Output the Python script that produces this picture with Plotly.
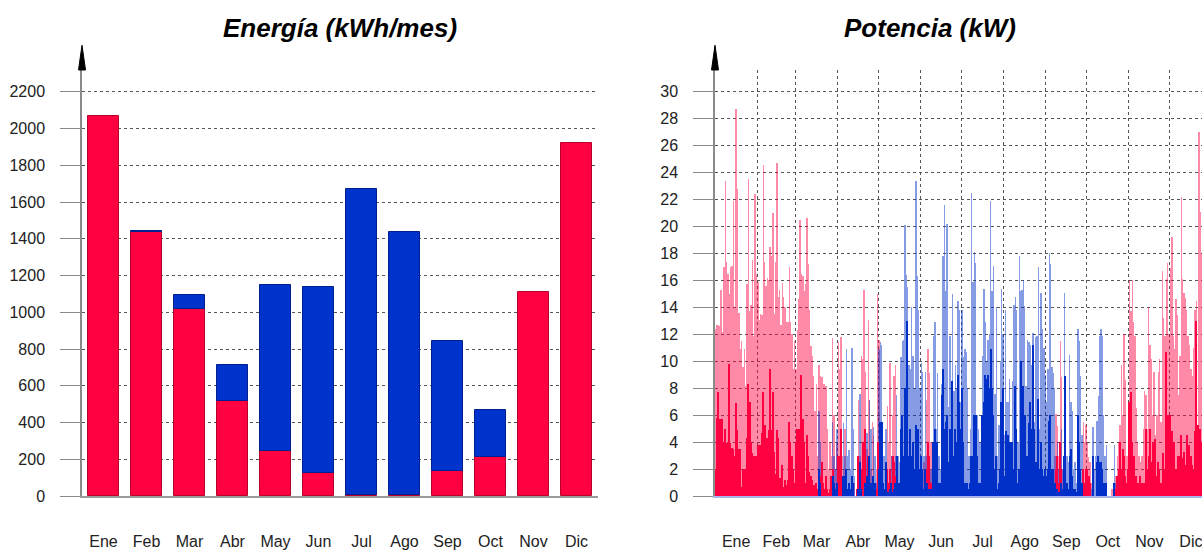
import numpy as np
import plotly.graph_objects as go

# ---------------- datos ----------------
meses = ["Ene", "Feb", "Mar", "Abr", "May", "Jun", "Jul", "Ago", "Sep", "Oct", "Nov", "Dic"]
dias_mes = [31, 28, 31, 30, 31, 30, 31, 31, 30, 31, 30, 31]

# Energía mensual (kWh/mes)
calefaccion = [2070, 1435, 1020, 515, 245, 125, 5, 5, 135, 215, 1110, 1920]
refrigeracion = [0, 10, 75, 200, 905, 1010, 1665, 1430, 710, 255, 0, 0]

# Potencia diaria (kW): pico y nivel base, calefacción
calor_pico = (
    [12.4, 12.7, 12.7, 12.6, 15.3, 12.2, 17.0, 23.4, 17.4, 16.5, 15.0, 17.0, 17.1, 21.9, 14.0, 28.7,
     22.8, 13.6, 10.9, 11.5, 9.6, 10.9, 8.2, 15.7, 23.5, 13.7, 14.2, 17.5, 11.9, 22.4, 16.5]  # Ene
    + [15.9, 13.1, 13.5, 13.4, 24.6, 17.4, 15.6, 16.2, 16.0, 18.5, 17.8, 21.0, 13.5, 17.4, 24.7, 14.8,
       15.3, 12.7, 15.8, 14.8, 14.0, 12.9, 12.9, 17.0, 12.9, 12.0, 9.4, 11.5]  # Feb
    + [9.4, 12.3, 14.6, 20.5, 16.5, 16.3, 15.2, 15.7, 20.6, 17.2, 13.8, 11.1, 10.4, 8.9, 6.3, 8.3,
       3.0, 9.7, 8.9, 8.8, 8.3, 8.3, 8.2, 5.0, 2.0, 4.0, 3.0, 11.7, 6.0, 2.0, 4.0]  # Mar
    + [11.4, 9.4, 11.8, 3, 2, 5, 0.5, 0, 0, 0.5, 0, 0, 1, 0, 2.5, 7.1, 3, 10.4, 10.2, 15.3,
       9.2, 3.5, 13.1, 7.1, 2, 5.5, 4.5, 1, 2, 15.0]  # Abr
    + [11.6, 0, 0, 0, 0, 0, 6.7, 4, 9.9, 3, 6, 8.9, 9.7, 2, 1] + [0] * 16  # May
    + [0, 0, 2.5, 3, 7.1, 10.9, 9.1, 4, 1, 0.5] + [0] * 20  # Jun
    + [0, 1.6] + [0] * 29  # Jul
    + [0, 0, 0, 0, 0, 0, 0, 0, 2] + [0] * 22  # Ago
    + [0, 0, 0, 0, 0, 0, 3, 6.1, 5.2, 3, 11.5, 8.8, 2, 1, 2, 0.5, 0, 0, 0, 0,
       0, 0, 0, 0, 0, 0, 0, 5.5, 4, 5.3]  # Sep
    + [3.9, 2.9, 2.5, 1, 0.5, 0, 0, 0, 0, 0, 0, 0, 0, 0, 0, 0, 0, 0, 0.5, 0.5,
       0.5, 1.5, 3, 4.0, 5.3, 9.7, 6, 12.0, 8.6, 3, 3.2]  # Oct
    + [16.0, 13.7, 16.0, 12.9, 11.9, 6.5, 4, 3, 2.5, 3, 5, 7.8, 7.5, 5, 14.0, 11.2, 10.2, 6, 9.2, 4.5,
       6, 9.2, 10.2, 5.5, 16.7, 13.2, 11.9, 16.1, 17.3, 12]  # Nov
    + [16.9, 19.2, 11.9, 10.9, 14.6, 13.4, 7.5, 10.4, 22.2, 16.1, 15.1, 14.7, 13.8, 11.9, 11.2, 9.4,
       8.9, 11.0, 13.8, 14.5, 5, 27.0, 21.1, 18, 16, 15, 14, 17, 16, 13, 15]  # Dic
)

calor_base = (
    [2, 5.8, 7.7, 5.7, 5.7, 5.7, 4, 5, 3.9, 3.9, 9.8, 3.9, 3.6, 3.5, 3, 6.9, 4.9, 3.5, 3.5, 0.7,
     2, 2, 2, 4.3, 8.3, 7, 4, 3.2, 3, 2.8, 3]  # Ene
    + [3.8, 3.8, 3.8, 4.7, 7.7, 5.3, 2.3, 4.3, 4.9, 9.4, 4.9, 7.7, 3.3, 1.6, 4.9, 4.3, 1.3, 1.3, 2.3,
       0.7, 1.2, 0.8, 1.2, 5.5, 4, 3, 2, 1]  # Feb
    + [4, 5, 5, 2.5, 9, 5.7, 4, 1, 4.5, 3, 1.8, 1.5, 1.2, 0.8, 0.5, 1, 0.5, 1, 1.5, 2.5, 1, 0.5,
       1.5, 0.5, 0.2, 0.5, 1.5, 2, 1, 0.5, 1]  # Mar
    + [3, 3, 5, 0.5, 0.5, 1.5, 0, 0, 0, 0, 0, 0, 0, 0, 0.5, 3, 1, 2, 4, 4, 5, 1, 3, 2, 0.5, 1,
       0.5, 0, 0.5, 4]  # Abr
    + [3, 0, 0, 0, 0, 0, 2, 1, 2, 0.5, 3, 2.5, 1.5, 0.5, 0] + [0] * 16  # May
    + [0, 0, 0.5, 1, 2, 4, 3, 1, 0, 0] + [0] * 20  # Jun
    + [0] * 31  # Jul
    + [0] * 31  # Ago
    + [0, 0, 0, 0, 0, 0, 0.5, 2, 3, 1, 4, 2, 0.5, 0, 0.5, 0, 0, 0, 0, 0, 0, 0, 0, 0, 0, 0, 0,
       2, 1, 2]  # Sep
    + [2, 1.5, 1, 0, 0] + [0] * 16 + [0.5, 1.5, 2, 4, 2, 3.5, 3, 1.5, 1, 2]  # Oct
    + [7, 7.7, 4, 3, 1.5, 1.5, 1, 1, 1.5, 1, 0.5, 1, 5, 2, 3, 5, 2.5, 4, 2, 4.2, 1.5, 2.5, 2, 1,
       1, 3.2, 2, 10.7, 6, 4]  # Nov
    + [6, 4.8, 1, 4, 2, 0.5, 3, 3, 4.5, 2.8, 3.3, 2.3, 4.5, 2.8, 3.8, 3, 2.3, 2, 4.8, 13, 5.3, 5,
       5, 4, 4, 4, 4, 4, 4, 4, 4]  # Dic
)

# Potencia diaria (kW): pico y nivel base, refrigeración
frio_pico = (
    [0] * 31  # Ene
    + [0] * 28  # Feb
    + [0] * 17 + [6.3, 4] + [0] * 8 + [5.5, 3, 2, 5]  # Mar
    + [0, 0, 0, 0, 5.4, 3, 10.9, 3, 3.4, 2, 11.0, 5.0, 1.5, 0, 0, 1, 7.6, 2, 0, 0, 4, 4.7, 2, 7.1,
       5, 0, 5.1, 3, 1, 0]  # Abr
    + [10.9, 11.4, 11.2, 3, 3, 5.0, 1, 1, 2, 3, 1, 2, 3, 7.5, 3, 2.5, 10.3, 11.5, 11.6, 20.1, 16.4,
       15.5, 9.7, 9.4, 14.0, 10.4, 8, 23.4, 16.3, 13.8, 8]  # May
    + [9.9, 9.2, 3, 9.2, 3, 2, 2, 2, 3, 11.9, 12.9, 5, 9.1, 3, 2, 8.3, 17.8, 21.6, 15.2, 20.2, 6.6,
       11.9, 8, 15.0, 7.8, 9.7, 8, 14.5, 13.8, 7]  # Jun
    + [13.8, 10.3, 10.9, 10.7, 8, 3, 5, 22.5, 15.9, 18.1, 17.3, 6, 5, 4, 3, 10.4, 15.4, 12.9, 10.0,
       11.6, 12, 21.9, 15.2, 17.1, 7.6, 14.0, 3, 5.3, 10, 15.4, 12]  # Jul
    + [4.5, 13.8, 7, 7, 8.7, 3, 8.5, 14.2, 14.8, 13.8, 4, 17.8, 15.2, 15.3, 16.0, 14.1, 8.2, 11.6,
       11.4, 11.2, 9.7, 12.1, 5.5, 11.8, 11.9, 17.0, 5, 15.1, 12.4, 11, 9]  # Ago
    + [7, 9.4, 18.0, 17.2, 9.6, 9.1, 8, 3, 4, 2, 3, 5, 2, 15.1, 8.9, 3, 2.5, 10.5, 7, 6.3, 2, 2.5,
       1, 12.4, 11.5, 8.9, 4.5, 1, 0.5, 0.5]  # Sep
    + [1, 0.5, 0, 0.5, 5.1, 2, 3, 5.6, 7.4, 11.9, 12.4, 11.9, 6, 3, 3.8, 0, 0, 0, 0, 0, 3.8, 1,
       0.5] + [0] * 8  # Oct
    + [0] * 30  # Nov
    + [0] * 31  # Dic
)

frio_base = (
    [0] * 31  # Ene
    + [0] * 28  # Feb
    + [0] * 17 + [2, 1] + [0] * 8 + [1.5, 1, 0.5, 1]  # Mar
    + [0, 0, 0, 0, 1.5, 1.5, 2, 0.5, 1, 0.5, 1.5, 1, 0, 0, 0, 0.5, 2.5, 0.5, 0, 0, 1, 1.5, 0.5, 3,
       1, 0, 1.5, 1, 0, 0]  # Abr
    + [2, 5.5, 5.5, 1, 0.5, 2.5, 0.3, 0.3, 0.5, 1, 0.3, 0.5, 1, 3, 1, 1, 5, 6, 3, 8, 4, 13, 3, 5,
       3, 4, 2, 5.3, 5, 5, 2]  # May
    + [3, 2, 0.5, 2, 1, 0.5, 0.5, 0.5, 0.5, 4, 5, 2, 4, 1, 1, 7.5, 9.4, 5, 5.5, 6, 2.5, 5, 2, 8.5,
       3, 5, 4, 9, 7, 5]  # Jun
    + [8, 4, 1, 1, 1, 0.5, 1, 3, 3, 6, 6, 3, 1, 1, 1, 6, 7, 9, 8.7, 9, 8, 10.9, 8, 6, 2, 3, 0.5,
       1, 2, 7, 8]  # Jul
    + [1.5, 4.8, 3, 4.5, 4, 1.5, 4, 2, 8.2, 5, 1, 2, 10, 6.5, 8.2, 6, 2, 3, 5.4, 7, 5, 11.2, 5,
       2.5, 2.5, 7.2, 2, 4, 2, 1.5, 2]  # Ago
    + [1.5, 2, 5.6, 6, 2, 2, 1, 0.5, 0.5, 0.3, 0.3, 1, 0.5, 3, 8.9, 1, 0.5, 3, 3.5, 1.5, 0.5, 0.5,
       0.3, 6, 4, 2, 1, 0, 0, 0]  # Sep
    + [0, 0, 0, 0, 3, 0, 0, 2.5, 3, 2.5, 2.5, 2, 1, 0, 1, 0, 0, 0, 0, 0, 1] + [0] * 10  # Oct
    + [0] * 30  # Nov
    + [0] * 31  # Dic
)

# ---------------- figura ----------------
W, H = 1202, 550
FONT = "Liberation Sans, Arial, sans-serif"
ROJO, AZUL = "#FF0040", "#0030C8"

dias = np.arange(len(calor_pico)) + 0.5
limites = np.cumsum([0] + dias_mes)
centros = (limites[:-1] + limites[1:]) / 2

fig = go.Figure()

# Izquierda: energía mensual apilada
fig.add_trace(go.Bar(x=meses, y=calefaccion, width=0.72, xaxis="x", yaxis="y",
                     marker=dict(color=ROJO, line=dict(color="#B8002C", width=1))))
fig.add_trace(go.Bar(x=meses, y=[v if v > 0 else None for v in refrigeracion], base=calefaccion,
                     width=0.72, xaxis="x", yaxis="y",
                     marker=dict(color="#0033CC", line=dict(color="#00208F", width=1))))

# Derecha: potencia diaria
fig.add_trace(go.Bar(x=dias, y=calor_pico, width=1, xaxis="x2", yaxis="y2",
                     marker=dict(color="rgba(255,0,64,0.46)", line=dict(width=0))))
fig.add_trace(go.Bar(x=dias, y=frio_pico, width=1, xaxis="x2", yaxis="y2",
                     marker=dict(color="rgba(0,48,200,0.48)", line=dict(width=0))))
fig.add_trace(go.Bar(x=dias, y=calor_base, width=1, xaxis="x2", yaxis="y2",
                     marker=dict(color=ROJO, line=dict(width=0))))
fig.add_trace(go.Bar(x=dias, y=frio_base, width=1, xaxis="x2", yaxis="y2",
                     marker=dict(color=AZUL, line=dict(width=0))))

L0, L1 = 82 / W, 598 / W
R0 = 715 / W
TOP, BOT = 70, 50
ph = H - TOP - BOT
x2_end = (W - 715) / (497 / 365)

tickfont = dict(family=FONT, size=16, color="#222")
yax_common = dict(showgrid=True, gridcolor="#555", griddash="dot", gridwidth=1,
                  ticks="outside", ticklen=20, tickcolor="#8a8a8a", tickwidth=1,
                  showline=True, linecolor="#8a8a8a", linewidth=1.5, zeroline=False,
                  tickfont=tickfont, ticklabelstandoff=12, fixedrange=True)

fig.update_layout(
    width=W, height=H,
    margin=dict(l=0, r=0, t=TOP, b=BOT, pad=0),
    paper_bgcolor="white", plot_bgcolor="white",
    showlegend=False, barmode="overlay", bargap=0,
    font=dict(family=FONT),
    xaxis=dict(domain=[L0, L1], type="category", range=[-0.5, 11.5], showgrid=False,
               showline=True, linecolor="#9a9a9a", linewidth=1.5, ticks="",
               tickfont=tickfont, ticklabelstandoff=30, anchor="y"),
    yaxis=dict(domain=[0, 1], range=[0, 2200 * ph / 408], tickvals=list(range(0, 2201, 200)),
               anchor="x", **yax_common),
    xaxis2=dict(domain=[R0, 1], range=[0, x2_end], tickmode="array", tickvals=centros,
                ticktext=meses, showgrid=False, ticks="", showline=True,
                linecolor="#A9B6EA", linewidth=1.5, zeroline=False,
                tickfont=tickfont, ticklabelstandoff=30, anchor="y2",
                ticklabeloverflow="allow",
                minor=dict(tickmode="array", tickvals=limites[1:-1], showgrid=True,
                           gridcolor="#555", griddash="dot", gridwidth=1, ticks="")),
    yaxis2=dict(domain=[0, 1], range=[0, 30 * ph / 408], tickvals=list(range(0, 31, 2)),
                anchor="x2", **yax_common),
)

titulo = dict(family=FONT, size=26, color="black")
ytit = 1 + (TOP - 28) / ph
fig.add_annotation(text="<b><i>Energía (kWh/mes)</i></b>", x=(L0 + L1) / 2, y=ytit,
                   xref="paper", yref="paper", showarrow=False, font=titulo,
                   xanchor="center", yanchor="middle")
fig.add_annotation(text="<b><i>Potencia (kW)</i></b>", x=930 / W, y=ytit,
                   xref="paper", yref="paper", showarrow=False, font=titulo,
                   xanchor="center", yanchor="middle")

# flechas en la parte superior de los ejes Y
for xp in (L0, R0):
    hw = 3.5 / W
    tip = 1 + 25 / ph
    fig.add_shape(type="path", xref="paper", yref="paper",
                  path=f"M {xp - hw} 1 L {xp} {tip} L {xp + hw} 1 Z",
                  fillcolor="black", line=dict(color="black", width=1))

fig.write_html("out.html")
